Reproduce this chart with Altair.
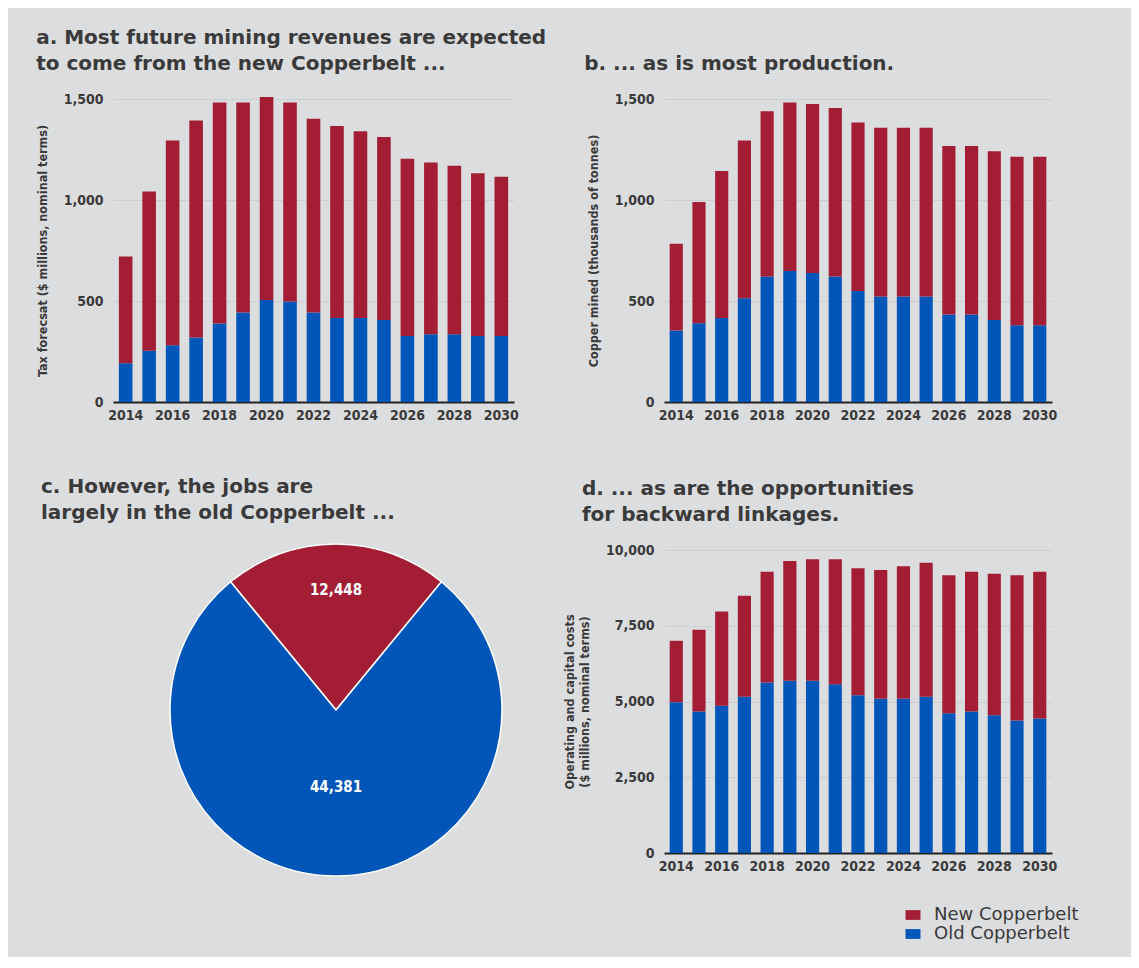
import math
import altair as alt
import pandas as pd

# ---------------- data ----------------
years = list(range(2014, 2031))
tick_years = [2014, 2016, 2018, 2020, 2022, 2024, 2026, 2028, 2030]

tax_total = [720, 1042, 1295, 1394, 1483, 1483, 1510, 1483, 1402, 1366, 1340, 1312, 1204, 1186, 1170, 1133, 1115]
tax_old = [192, 254, 281, 319, 388, 443, 505, 497, 443, 416, 416, 406, 327, 335, 335, 327, 327]

prod_total = [783, 990, 1143, 1295, 1439, 1483, 1475, 1455, 1384, 1358, 1358, 1358, 1267, 1267, 1241, 1214, 1214]
prod_old = [354, 390, 416, 514, 621, 649, 639, 621, 550, 522, 522, 522, 433, 433, 406, 380, 380]

cost_total = [7004, 7368, 7974, 8491, 9284, 9637, 9692, 9692, 9394, 9339, 9460, 9581, 9163, 9284, 9218, 9163, 9284]
cost_old = [4978, 4670, 4857, 5154, 5628, 5683, 5683, 5573, 5209, 5088, 5088, 5154, 4615, 4670, 4548, 4372, 4438]

belts = ["New Copperbelt", "Old Copperbelt"]
jobs = [12448, 44381]

RED = "#a31e35"
BLUE = "#0056b8"
BG = "#dcdddf"
TXT = "#3a3a3a"
TICK_FONT = "DejaVu Sans Condensed, Roboto Condensed, Roboto"
TITLE_FONT = "DejaVu Sans"

color_scale = alt.Scale(domain=belts, range=[RED, BLUE])


def long_df(total, old):
    rows = []
    for y, t, o in zip(years, total, old):
        rows.append({"year": y, "belt": "Old Copperbelt", "value": o, "ord": 0})
        rows.append({"year": y, "belt": "New Copperbelt", "value": t - o, "ord": 1})
    return pd.DataFrame(rows)


def panel_title(lines, dx=0):
    return alt.TitleParams(
        text=lines, anchor="start", frame="bounds", font=TITLE_FONT,
        fontWeight="bold", fontSize=20, color=TXT, lineHeight=26, offset=18, dx=dx,
    )


def bar_panel(total, old, title_lines, ytitle, ymax, yvals, width, legend=None, title_dx=0):
    df = long_df(total, old)
    return (
        alt.Chart(df)
        .mark_bar()
        .encode(
            x=alt.X(
                "year:O",
                scale=alt.Scale(paddingInner=0.42, paddingOuter=0.25),
                axis=alt.Axis(values=tick_years, title=None, labelAngle=0,
                              domain=True, domainColor="#222222", domainWidth=2,
                              ticks=False, labelPadding=6),
            ),
            y=alt.Y(
                "value:Q", stack="zero",
                scale=alt.Scale(domain=[0, ymax], nice=False),
                axis=alt.Axis(values=yvals, format=",d", title=ytitle,
                              domain=False, ticks=False, labelPadding=10,
                              titlePadding=14),
            ),
            color=alt.Color("belt:N", scale=color_scale, legend=legend),
            order=alt.Order("ord:Q"),
        )
        .properties(width=width, height=303, title=panel_title(title_lines, title_dx))
    )


chart_a = bar_panel(
    tax_total, tax_old,
    ["a. Most future mining revenues are expected", "to come from the new Copperbelt ..."],
    "Tax forecsat ($ millions, nominal terms)", 1500, [0, 500, 1000, 1500], 401,
)
chart_b = bar_panel(
    prod_total, prod_old,
    ["b. ... as is most production."],
    "Copper mined (thousands of tonnes)", 1500, [0, 500, 1000, 1500], 388,
    title_dx=-3,
)
chart_d = bar_panel(
    cost_total, cost_old,
    ["d. ... as are the opportunities", "for backward linkages."],
    ["Operating and capital costs", "($ millions, nominal terms)"],
    10000, [0, 2500, 5000, 7500, 10000], 388,
    legend=alt.Legend(
        title=None, orient="none", legendX=240, legendY=356,
        symbolType="M-1,-0.65L1,-0.65L1,0.65L-1,0.65Z", symbolSize=225,
        symbolStrokeWidth=0,
        labelFont=TITLE_FONT, labelFontSize=18, labelColor=TXT,
        labelFontWeight="normal", rowPadding=1, labelOffset=12,
    ),
    title_dx=18,
)

# pie
pie_df = pd.DataFrame({"belt": belts, "jobs": jobs, "ord": [0, 1]})
start = -math.pi * jobs[0] / sum(jobs)
pie_base = alt.Chart(pie_df).encode(
    theta=alt.Theta("jobs:Q", stack=True,
                    scale=alt.Scale(range=[start, start + 2 * math.pi])),
    order=alt.Order("ord:Q"),
)
CX, CY = 223, 160
pie_arc = pie_base.mark_arc(outerRadius=166, stroke="white", strokeWidth=1.5).encode(
    color=alt.Color("belt:N", scale=color_scale, legend=None),
    x=alt.value(CX), y=alt.value(CY),
)
label_new = pie_base.mark_text(radius=120, font=TICK_FONT, fontWeight="bold",
                               fontSize=15, color="white").encode(
    text=alt.Text("jobs:Q", format=",d"),
    opacity=alt.condition(alt.datum.belt == "New Copperbelt", alt.value(1), alt.value(0)),
    x=alt.value(CX), y=alt.value(CY),
)
label_old = pie_base.mark_text(radius=77, font=TICK_FONT, fontWeight="bold",
                               fontSize=15, color="white").encode(
    text=alt.Text("jobs:Q", format=",d"),
    opacity=alt.condition(alt.datum.belt == "Old Copperbelt", alt.value(1), alt.value(0)),
    x=alt.value(CX), y=alt.value(CY),
)
chart_c = alt.layer(pie_arc, label_new, label_old).properties(
    width=401, height=303,
    title=panel_title(["c. However, the jobs are", "largely in the old Copperbelt ..."], dx=-72),
)

chart = (
    alt.concat(chart_a, chart_b, chart_c, chart_d, columns=2,
               spacing={"row": 148, "column": 150}, bounds="flush")
    .resolve_legend(color="independent")
    .properties(padding={"left": 28, "top": 20, "right": 52, "bottom": 14})
    .configure(background=BG)
    .configure_view(stroke=None)
    .configure_axis(
        labelFont=TICK_FONT, labelFontWeight="bold", labelFontSize=14,
        labelColor=TXT, titleFont=TICK_FONT, titleFontWeight="bold",
        titleFontSize=12.5, titleColor=TXT, gridColor="#ccced1", gridWidth=1,
    )
)

chart.save("out.html", embed_options={"renderer": "svg", "actions": False})
